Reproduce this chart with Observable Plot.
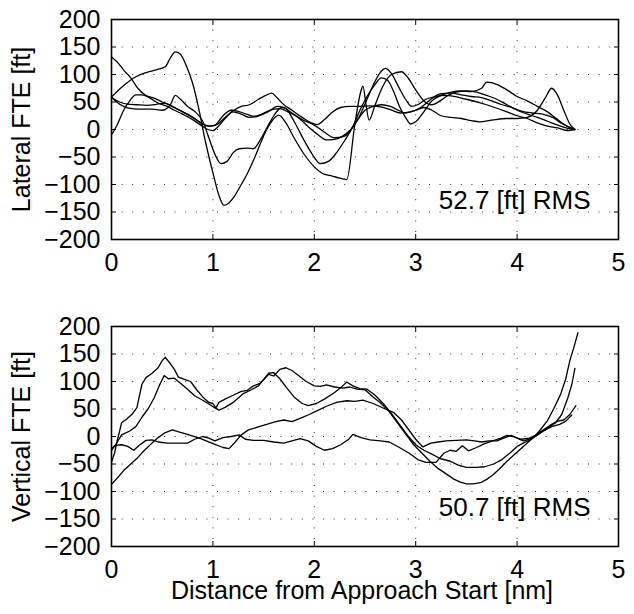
<!DOCTYPE html>
<html><head><meta charset="utf-8">
<script src="https://cdn.jsdelivr.net/npm/d3@7"></script>
<script src="https://cdn.jsdelivr.net/npm/@observablehq/plot@0.6"></script>
<style>body{margin:0;background:#fff;} #chart{width:634px;height:614px;}</style>
</head><body><div id="chart"></div>
<script>
// ---- data (x in nm, y in ft) ----
const xTicks = [0, 1, 2, 3, 4, 5];
const yTicks = [-200, -150, -100, -50, 0, 50, 100, 150, 200];
const xGrid = [1, 2, 3, 4];
const yGrid = [-150, -100, -50, 0, 50, 100, 150];
const xLabel = "Distance from Approach Start [nm]";
const topLabel = "Lateral FTE [ft]";
const bottomLabel = "Vertical FTE [ft]";
const topRms = "52.7 [ft] RMS";
const bottomRms = "50.7 [ft] RMS";

const lat1 = [[0,59],[0.12,80],[0.24,96],[0.35,104],[0.45,109],[0.53,114],[0.58,130],[0.63,141],[0.68,137],[0.74,115],[0.8,84],[0.85,47],[0.93,-25],[1.01,-86],[1.06,-120],[1.11,-138],[1.16,-133],[1.21,-122],[1.28,-100],[1.34,-80],[1.41,-52],[1.47,-25],[1.53,0],[1.58,15],[1.65,26],[1.72,12],[1.8,-15],[1.9,-45],[2.0,-68],[2.08,-80],[2.16,-84],[2.24,-88],[2.32,-91],[2.4,10],[2.46,70],[2.48,79],[2.51,45],[2.54,17],[2.6,45],[2.68,80],[2.76,100],[2.86,105],[2.92,95],[3.0,72],[3.08,52],[3.16,45],[3.24,52],[3.32,62],[3.4,68],[3.5,70],[3.6,68],[3.7,62],[3.8,55],[3.9,45],[4.0,35],[4.1,28],[4.2,22],[4.3,15],[4.4,8],[4.5,2],[4.57,0]];
const lat2 = [[0,132],[0.06,122],[0.12,108],[0.19,94],[0.26,75],[0.33,63],[0.42,57],[0.5,50],[0.58,44],[0.66,36],[0.75,28],[0.82,20],[0.9,10],[0.98,6],[1.05,10],[1.12,22],[1.2,34],[1.28,42],[1.36,45],[1.45,55],[1.52,62],[1.58,66],[1.63,58],[1.7,45],[1.78,35],[1.88,22],[1.97,12],[2.03,9],[2.1,18],[2.18,32],[2.26,40],[2.35,42],[2.45,42],[2.55,43],[2.65,41],[2.75,36],[2.85,30],[2.95,32],[3.05,40],[3.15,55],[3.25,65],[3.35,66],[3.45,63],[3.55,60],[3.65,58],[3.75,52],[3.85,45],[3.95,40],[4.05,33],[4.15,30],[4.25,28],[4.35,22],[4.45,10],[4.55,2]];
const lat3 = [[0,59],[0.05,50],[0.12,42],[0.2,38],[0.3,37],[0.4,37],[0.5,35],[0.58,45],[0.63,62],[0.68,55],[0.75,42],[0.82,33],[0.9,15],[0.96,-15],[1.02,-45],[1.08,-62],[1.14,-58],[1.2,-42],[1.26,-35],[1.34,-34],[1.4,-35],[1.47,-18],[1.53,2],[1.6,25],[1.68,40],[1.72,38],[1.8,15],[1.9,-20],[1.98,-45],[2.06,-62],[2.14,-58],[2.22,-42],[2.3,-20],[2.38,5],[2.45,35],[2.52,60],[2.6,82],[2.66,94],[2.72,90],[2.78,70],[2.84,42],[2.9,22],[2.95,10],[3.0,14],[3.08,32],[3.16,52],[3.25,62],[3.35,68],[3.45,70],[3.55,69],[3.65,75],[3.7,86],[3.8,82],[3.9,72],[4.0,60],[4.1,52],[4.2,42],[4.3,32],[4.4,18],[4.5,5],[4.57,0]];
const lat4 = [[0,-10],[0.06,10],[0.12,35],[0.18,52],[0.24,63],[0.3,63],[0.38,57],[0.46,48],[0.55,42],[0.62,35],[0.7,28],[0.8,18],[0.88,8],[0.95,0],[1.0,-2],[1.05,5],[1.12,20],[1.2,32],[1.28,28],[1.36,22],[1.44,24],[1.52,30],[1.6,37],[1.66,38],[1.74,32],[1.84,22],[1.94,5],[2.04,-10],[2.12,-19],[2.2,-18],[2.28,-12],[2.36,0],[2.44,22],[2.52,55],[2.6,88],[2.66,106],[2.7,111],[2.76,102],[2.83,78],[2.9,55],[2.96,42],[3.02,45],[3.1,55],[3.2,60],[3.3,62],[3.5,55],[3.7,45],[3.9,32],[4.0,25],[4.1,20],[4.2,12],[4.3,6],[4.4,3],[4.5,-2],[4.57,0]];
const lat5 = [[0,58],[0.08,50],[0.16,46],[0.25,45],[0.35,44],[0.45,46],[0.52,48],[0.6,42],[0.7,32],[0.8,22],[0.88,12],[0.95,6],[1.02,8],[1.1,25],[1.18,35],[1.25,33],[1.33,28],[1.4,24],[1.48,28],[1.56,35],[1.64,42],[1.7,40],[1.78,30],[1.88,18],[2.0,8],[2.1,-5],[2.2,-15],[2.3,-12],[2.4,10],[2.5,35],[2.58,42],[2.66,45],[2.75,42],[2.83,35],[2.9,30],[3.0,35],[3.08,40],[3.16,35],[3.25,25],[3.35,22],[3.45,20],[3.55,16],[3.63,14],[3.75,17],[3.9,20],[4.0,20],[4.1,22],[4.2,35],[4.28,58],[4.34,75],[4.4,62],[4.46,35],[4.52,10],[4.57,0]];

const vert1 = [[0,-47],[0.03,-30],[0.06,-5],[0.1,25],[0.15,32],[0.2,40],[0.25,52],[0.3,95],[0.34,107],[0.4,115],[0.46,125],[0.5,138],[0.53,144],[0.57,135],[0.62,122],[0.66,108],[0.72,104],[0.78,100],[0.84,85],[0.9,72],[0.96,62],[1.0,60],[1.03,52],[1.06,62],[1.12,68],[1.2,75],[1.28,82],[1.34,84],[1.4,92],[1.46,96],[1.5,103],[1.55,113],[1.6,110],[1.66,122],[1.72,125],[1.78,120],[1.85,110],[1.92,100],[2.0,92],[2.06,91],[2.12,94],[2.2,90],[2.28,88],[2.35,90],[2.42,86],[2.5,85],[2.58,72],[2.66,60],[2.74,45],[2.82,25],[2.9,5],[2.98,-15],[3.06,-30],[3.14,-45],[3.22,-58],[3.3,-68],[3.38,-78],[3.44,-83],[3.5,-86],[3.57,-86],[3.64,-84],[3.7,-78],[3.76,-70],[3.82,-60],[3.9,-45],[3.96,-35],[4.04,-22],[4.1,-12],[4.16,-2],[4.22,10],[4.3,29],[4.36,50],[4.43,77],[4.48,105],[4.52,138],[4.56,162],[4.6,189]];
const vert2 = [[0,-25],[0.04,-15],[0.1,3],[0.18,10],[0.24,18],[0.3,35],[0.36,50],[0.42,70],[0.47,92],[0.52,111],[0.56,105],[0.62,106],[0.68,97],[0.75,86],[0.82,74],[0.9,66],[0.96,59],[1.02,52],[1.06,48],[1.12,53],[1.2,62],[1.3,78],[1.38,85],[1.45,92],[1.5,104],[1.55,115],[1.6,116],[1.66,105],[1.73,88],[1.8,72],[1.88,60],[1.94,56],[2.02,60],[2.1,68],[2.2,80],[2.28,92],[2.32,99],[2.38,92],[2.45,87],[2.52,86],[2.6,75],[2.68,60],[2.76,42],[2.84,22],[2.92,2],[3.0,-15],[3.08,-25],[3.16,-32],[3.24,-40],[3.34,-45],[3.42,-52],[3.5,-56],[3.6,-56],[3.68,-55],[3.77,-50],[3.85,-42],[3.93,-30],[4.0,-18],[4.06,-12],[4.14,-5],[4.22,5],[4.3,15],[4.38,25],[4.44,40],[4.5,70],[4.54,95],[4.57,124]];
const vert3 = [[0,-87],[0.06,-75],[0.12,-62],[0.19,-50],[0.26,-38],[0.32,-26],[0.4,-12],[0.46,-2],[0.52,6],[0.6,12],[0.67,8],[0.75,4],[0.88,-4],[1.0,-13],[1.1,-20],[1.16,-22],[1.22,-10],[1.28,3],[1.35,12],[1.44,17],[1.53,22],[1.62,27],[1.7,30],[1.78,27],[1.86,33],[1.95,40],[2.03,47],[2.12,55],[2.22,62],[2.32,65],[2.4,64],[2.48,66],[2.58,60],[2.7,50],[2.78,44],[2.86,30],[2.94,10],[3.0,-5],[3.07,-19],[3.15,-12],[3.22,-10],[3.3,-8],[3.4,-7],[3.5,-6],[3.58,-8],[3.65,-10],[3.72,-8],[3.8,-8],[3.88,-2],[3.94,2],[4.0,-3],[4.06,-8],[4.12,-5],[4.18,2],[4.26,12],[4.34,22],[4.4,28],[4.46,30],[4.52,40],[4.58,56]];
const vert4 = [[0,-22],[0.04,-16],[0.1,-15],[0.16,-18],[0.22,-25],[0.28,-15],[0.34,-7],[0.4,-6],[0.46,-10],[0.55,-12],[0.65,-12],[0.75,-12],[0.82,-5],[0.9,0],[0.96,-3],[1.02,-8],[1.1,-2],[1.18,0],[1.26,3],[1.32,-5],[1.4,-7],[1.5,-7],[1.6,-10],[1.7,-12],[1.78,-8],[1.86,-4],[1.94,-8],[2.02,-18],[2.1,-25],[2.18,-22],[2.26,-15],[2.34,-5],[2.38,4],[2.46,-2],[2.55,-6],[2.65,-8],[2.74,-10],[2.84,-20],[2.94,-31],[3.02,-42],[3.1,-47],[3.2,-47],[3.28,-30],[3.34,-25],[3.4,-27],[3.46,-17],[3.52,-26],[3.6,-20],[3.68,-13],[3.76,-8],[3.84,-3],[3.9,2],[3.96,0],[4.04,-5],[4.12,-3],[4.18,2],[4.26,10],[4.34,18],[4.42,22],[4.48,28],[4.54,39]];

const topSeries = [lat1, lat2, lat3, lat4, lat5];
const bottomSeries = [vert1, vert2, vert3, vert4];

// ---- drawing ----
const FONT = "'Liberation Sans', Arial, Helvetica, sans-serif";
function toRows(list) {
  return list.flatMap((pts, i) => pts.map(([x, y]) => ({s: i, x, y})));
}
function panel(series, yLab, rms, curve, withXLabel) {
  const marks = [
    Plot.gridX(xGrid, {stroke: "#333", strokeOpacity: 1, strokeWidth: 1, strokeDasharray: "1,9.6"}),
    Plot.gridY(yGrid, {stroke: "#333", strokeOpacity: 1, strokeWidth: 1, strokeDasharray: "1,9.6"}),
    Plot.line(toRows(series), {x: "x", y: "y", z: "s", stroke: "#000", strokeWidth: 1.3, curve}),
    Plot.axisX(xTicks, {anchor: "bottom", tickSize: -5, tickPadding: 19, label: null, fontSize: 25}),
    Plot.axisX(xTicks, {anchor: "top", tickSize: -5, fill: "none", label: null}),
    Plot.axisY(yTicks, {anchor: "left", tickSize: -5, tickPadding: 16, label: null, fontSize: 25}),
    Plot.axisY(yTicks, {anchor: "right", tickSize: -5, fill: "none", label: null}),
    Plot.frame({stroke: "#000", strokeWidth: 1.6}),
    Plot.text([yLab], {frameAnchor: "left", rotate: -90, dx: -99, textAnchor: "middle", lineAnchor: "top", fontSize: 25, fill: "#000"}),
    Plot.text([rms], {frameAnchor: "bottom-right", dx: -28, dy: -31, textAnchor: "end", lineAnchor: "bottom", fontSize: 26, fill: "#000"})
  ];
  if (withXLabel) marks.push(Plot.text([xLabel], {frameAnchor: "bottom", dx: -3, dy: 35, textAnchor: "middle", lineAnchor: "top", fontSize: 25, fill: "#000"}));
  return Plot.plot({
    width: 634, height: 307,
    marginTop: 19, marginBottom: 68, marginLeft: 111, marginRight: 16,
    x: {domain: [0, 5]},
    y: {domain: [-200, 200]},
    style: {fontFamily: FONT, fontSize: "25px", background: "#fff", color: "#000", overflow: "visible"},
    marks
  });
}
const root = document.getElementById("chart");
root.appendChild(panel(topSeries, topLabel, topRms, "monotone-x", false));
root.appendChild(panel(bottomSeries, bottomLabel, bottomRms, "linear", true));
</script></body></html>
